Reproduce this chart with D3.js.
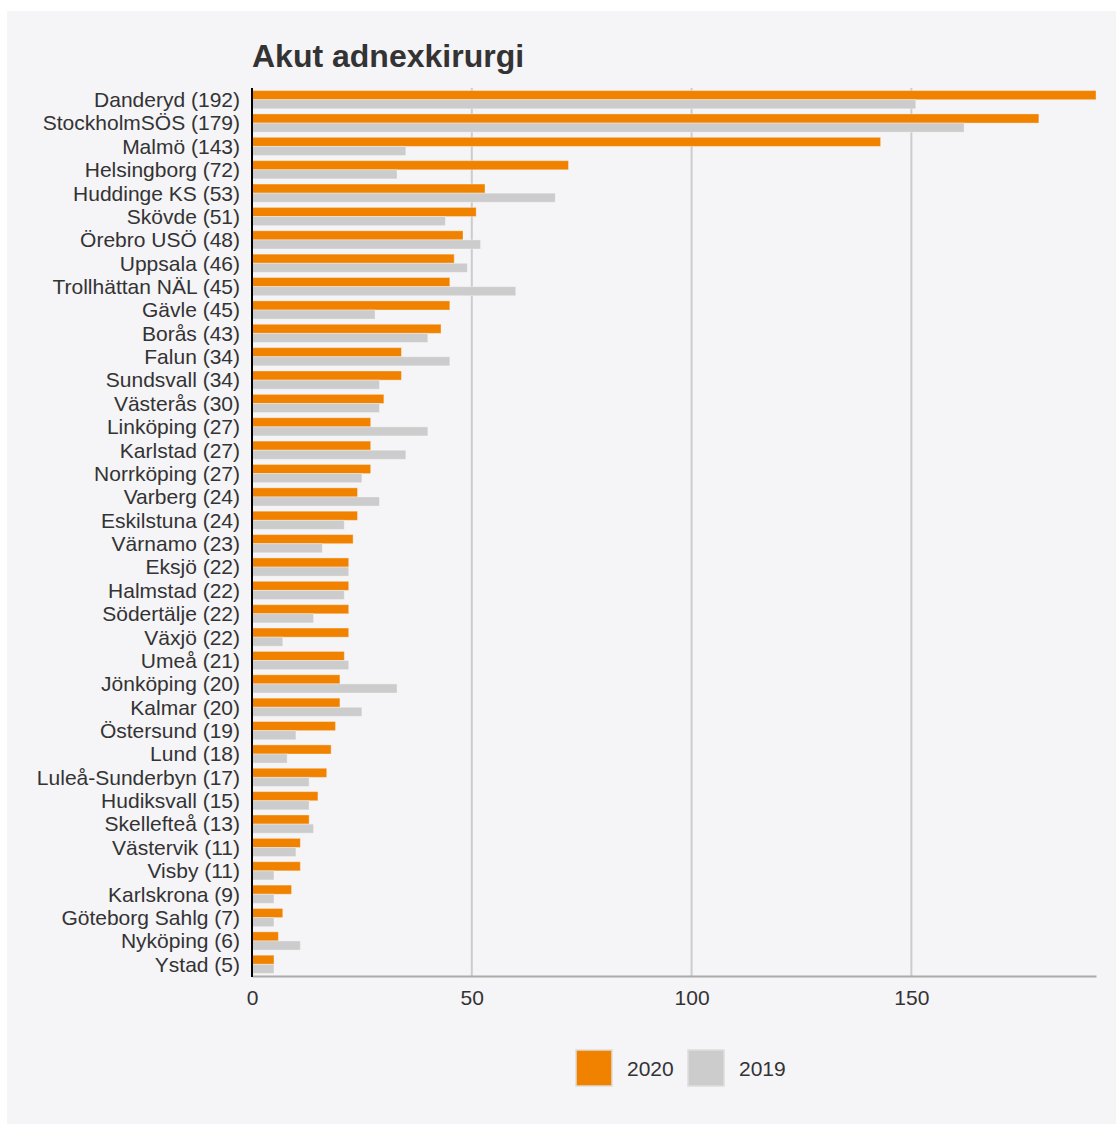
<!DOCTYPE html>
<html>
<head>
<meta charset="utf-8">
<script src="https://cdn.jsdelivr.net/npm/d3@7"></script>
<style>
  html, body { margin: 0; padding: 0; background: #ffffff; }
  svg { display: block; font-family: "Liberation Sans", Arial, sans-serif; }
</style>
</head>
<body>
<svg id="chart" width="1116" height="1124"></svg>
<script>
const title = "Akut adnexkirurgi";
const categories = ["Danderyd (192)","StockholmSÖS (179)","Malmö (143)","Helsingborg (72)","Huddinge KS (53)","Skövde (51)","Örebro USÖ (48)","Uppsala (46)","Trollhättan NÄL (45)","Gävle (45)","Borås (43)","Falun (34)","Sundsvall (34)","Västerås (30)","Linköping (27)","Karlstad (27)","Norrköping (27)","Varberg (24)","Eskilstuna (24)","Värnamo (23)","Eksjö (22)","Halmstad (22)","Södertälje (22)","Växjö (22)","Umeå (21)","Jönköping (20)","Kalmar (20)","Östersund (19)","Lund (18)","Luleå-Sunderbyn (17)","Hudiksvall (15)","Skellefteå (13)","Västervik (11)","Visby (11)","Karlskrona (9)","Göteborg Sahlg (7)","Nyköping (6)","Ystad (5)"];
const values2020 = [192,179,143,72,53,51,48,46,45,45,43,34,34,30,27,27,27,24,24,23,22,22,22,22,21,20,20,19,18,17,15,13,11,11,9,7,6,5];
const values2019 = [151,162,35,33,69,44,52,49,60,28,40,45,29,29,40,35,25,29,21,16,22,21,14,7,22,33,25,10,8,13,13,14,10,5,5,5,11,5];
const seriesNames = ["2020","2019"];
const seriesColors = ["#f08200","#cccccc"];
const xTicks = [0,50,100,150];
const xMax = 192;

(function () {
const FONT = "'Liberation Sans', Arial, sans-serif";
const svg = d3.select("#chart");
svg.append("rect").attr("x",7).attr("y",11).attr("width",1109).attr("height",1113).attr("fill","#f5f4f7");

const pLeft = 252, pRight = 1096, pTop = 88, pBottom = 976;
const x = d3.scaleLinear().domain([0, xMax]).range([pLeft, pRight]);
const y = d3.scaleBand().domain(categories).range([pTop, pBottom]).paddingInner(0.22).paddingOuter(0.11);
const ySub = d3.scaleBand().domain(seriesNames).range([0, y.bandwidth()]);

// gridlines
svg.append("g").selectAll("line").data(xTicks.filter(d => d > 0)).join("line")
  .attr("x1", d => x(d)).attr("x2", d => x(d))
  .attr("y1", pTop).attr("y2", pBottom)
  .attr("stroke", "#cccccc").attr("stroke-width", 2);

// title
svg.append("text").attr("x", pLeft).attr("y", 67).text(title)
  .attr("font-size", 32).attr("font-weight", "bold").attr("fill", "#333333").attr("font-family", FONT);

const rows = categories.map((c, i) => ({c, v: [values2020[i], values2019[i]]}));
const g = svg.append("g");
rows.forEach(r => {
  seriesNames.forEach((s, k) => {
    g.append("rect")
      .attr("x", x(0))
      .attr("y", y(r.c) + ySub(s))
      .attr("width", x(r.v[k]) - x(0))
      .attr("height", ySub.bandwidth())
      .attr("fill", seriesColors[k])
      .attr("stroke", "#ffffff").attr("stroke-opacity", 0.35).attr("stroke-width", 1);
  });
});

// bottom axis
const xAxis = svg.append("g").attr("transform", `translate(0,${pBottom})`)
  .call(d3.axisBottom(x).tickValues(xTicks).tickSize(0).tickPadding(14));
xAxis.select(".domain").attr("stroke", "#aaaaaa").attr("stroke-width", 2);
xAxis.selectAll("text").attr("font-size", 21).attr("fill", "#333333").attr("font-family", FONT);

// left axis
const yAxis = svg.append("g").attr("transform", `translate(${pLeft},0)`)
  .call(d3.axisLeft(y).tickSize(0).tickPadding(12));
yAxis.select(".domain").remove();
yAxis.selectAll("text").attr("font-size", 21).attr("fill", "#333333").attr("font-family", FONT)
  .attr("dy", "0.35em");
svg.append("line").attr("x1", pLeft).attr("x2", pLeft).attr("y1", pTop).attr("y2", pBottom + 1)
  .attr("stroke", "#000000").attr("stroke-width", 2);

// legend
const legendItems = [{x: 576, tx: 627}, {x: 688, tx: 739}];
seriesNames.forEach((s, k) => {
  svg.append("rect").attr("x", legendItems[k].x).attr("y", 1050).attr("width", 36).attr("height", 36)
    .attr("fill", seriesColors[k]).attr("stroke", "#dddddd").attr("stroke-width", 1.5);
  svg.append("text").attr("x", legendItems[k].tx).attr("y", 1076).text(s)
    .attr("font-size", 21).attr("fill", "#333333").attr("font-family", FONT);
});
})();
</script>
</body>
</html>
